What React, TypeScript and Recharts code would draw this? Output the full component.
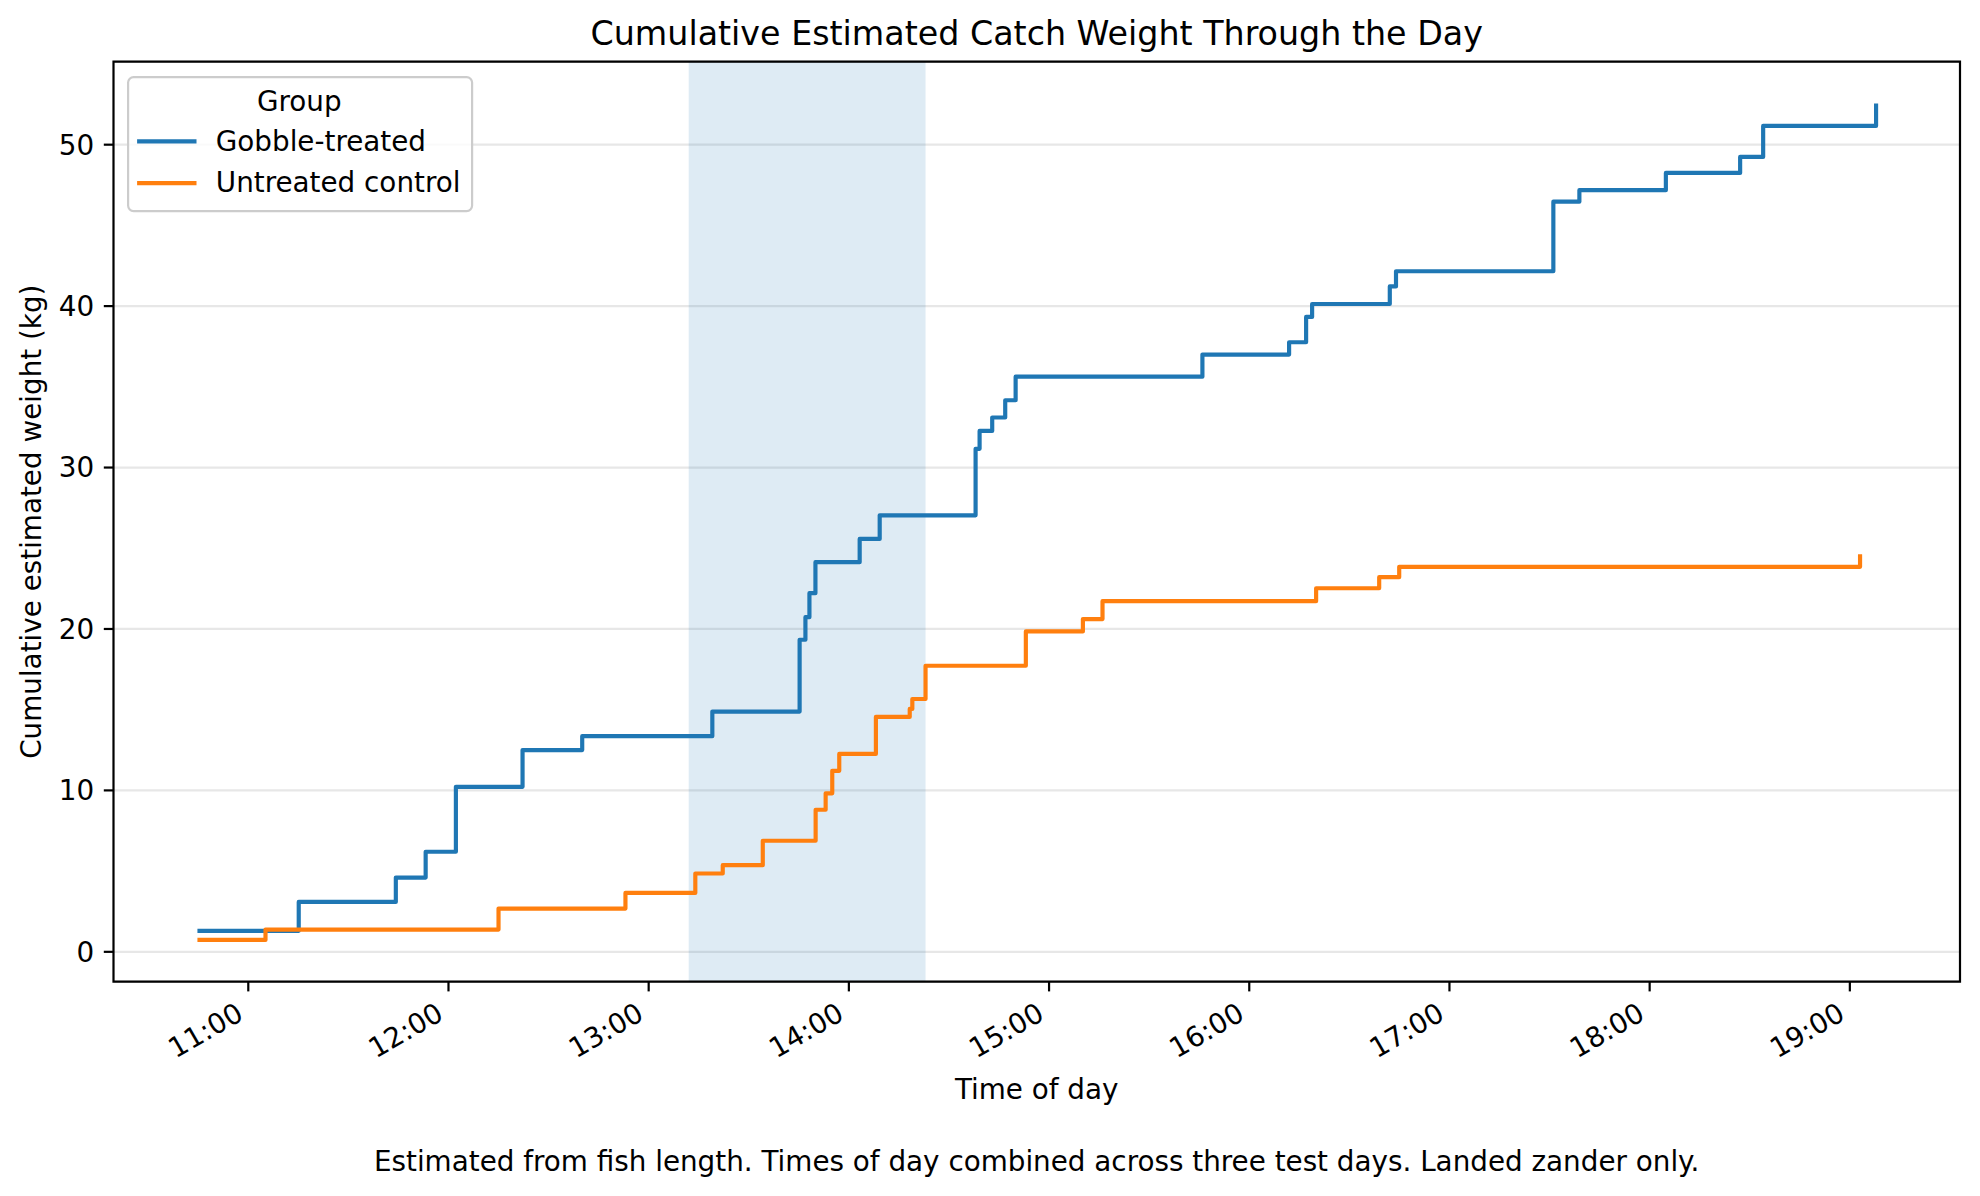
import React from 'react';
import { LineChart, Line, XAxis, YAxis, CartesianGrid, ReferenceArea, Legend } from 'recharts';

// Time of day in decimal hours, cumulative estimated weight in kg
const treatedTimes = [
  10.746, 11.252, 11.737, 11.886, 12.037, 12.37, 12.668, 13.318, 13.754, 13.783, 13.803,
  13.833, 14.054, 14.154, 14.633, 14.653, 14.716, 14.781, 14.833, 15.766, 16.199, 16.284,
  16.314, 16.702, 16.733, 17.519, 17.649, 18.081, 18.452, 18.567, 19.131,
];
const treatedWeights = [
  1.3, 3.09, 4.6, 6.2, 10.22, 12.5, 13.36, 14.88, 19.33, 20.73, 22.22,
  24.14, 25.58, 27.04, 31.16, 32.27, 33.1, 34.17, 35.63, 37.0, 37.76, 39.33,
  40.13, 41.22, 42.16, 46.47, 47.18, 48.25, 49.24, 51.16, 52.55,
];
const controlTimes = [
  10.746, 11.086, 12.25, 12.884, 13.233, 13.37, 13.57, 13.834, 13.884, 13.917, 13.952,
  14.135, 14.304, 14.317, 14.383, 14.884, 15.169, 15.267, 16.334, 16.649, 16.749, 19.051,
];
const controlWeights = [
  0.74, 1.38, 2.68, 3.65, 4.85, 5.37, 6.88, 8.8, 9.82, 11.21, 12.26,
  14.55, 15.05, 15.66, 17.72, 19.85, 20.61, 21.72, 22.52, 23.21, 23.85, 24.63,
];
const seriesNames = ['Gobble-treated', 'Untreated control'];
const seriesColors = ['#1f77b4', '#ff7f0e'];
const xTicks = [11, 12, 13, 14, 15, 16, 17, 18, 19];
const yTicks = [0, 10, 20, 30, 40, 50];
const highlightStart = 13.2;
const highlightEnd = 14.383;

const FONT = '"DejaVu Sans", Verdana, sans-serif';
const FS = 27.8;
const LW = 2.2;

const treatedData = treatedTimes.map((t, i) => ({ t, w: treatedWeights[i] }));
const controlData = controlTimes.map((t, i) => ({ t, w: controlWeights[i] }));

const allT = [...treatedTimes, ...controlTimes];
const allW = [...treatedWeights, ...controlWeights];
const tMin = Math.min(...allT);
const tMax = Math.max(...allT);
const wMin = Math.min(...allW);
const wMax = Math.max(...allW);
const xDomain: [number, number] = [tMin - 0.05 * (tMax - tMin), tMax + 0.05 * (tMax - tMin)];
const yDomain: [number, number] = [wMin - 0.05 * (wMax - wMin), wMax + 0.05 * (wMax - wMin)];

const fmtHour = (h: number) => `${String(Math.round(h)).padStart(2, '0')}:00`;

const XTick = (props: any) => {
  const { x, y, payload } = props;
  const ax = x - 3.3;
  const ay = y + 27.2;
  return (
    <text
      x={ax}
      y={ay}
      transform={`rotate(-30 ${ax} ${ay})`}
      textAnchor="end"
      fontSize={FS}
      fontFamily={FONT}
      fill="#000"
    >
      {fmtHour(payload.value)}
    </text>
  );
};

const renderLegend = (props: any) => {
  const payload = (props && props.payload) || [];
  const items = seriesNames.map((n, i) => {
    const p = payload.find((q: any) => q.value === n);
    return { name: n, color: (p && p.color) || seriesColors[i] };
  });
  return (
    <svg width={350} height={140} style={{ display: 'block' }}>
      <rect x={1.1} y={1.1} width={344} height={134} rx={5.5} ry={5.5} fill="#fff" fillOpacity={0.8} stroke="#cccccc" strokeWidth={LW} />
      <text x={172.3} y={34.7} textAnchor="middle" fontSize={FS} fontFamily={FONT} fill="#000">Group</text>
      {items.map((it, i) => (
        <g key={it.name}>
          <line x1={10.1} x2={69.5} y1={65.4 + i * 41.7} y2={65.4 + i * 41.7} stroke={it.color} strokeWidth={4.17} />
          <text x={88.8} y={75.4 + i * 41.0} fontSize={FS} fontFamily={FONT} fill="#000">{it.name}</text>
        </g>
      ))}
    </svg>
  );
};

export default function App() {
  return (
    <div style={{ position: 'absolute', left: 0, top: 0, width: 1980, height: 1196, background: '#fff' }}>
      <LineChart width={1980} height={1196} margin={{ top: 61.7, right: 20, left: 0, bottom: 0 }}>
        <CartesianGrid vertical={false} horizontal stroke="#b0b0b0" strokeOpacity={0.3} strokeWidth={LW} />
        <ReferenceArea x1={highlightStart} x2={highlightEnd} fill="#1f77b4" fillOpacity={0.15} stroke="none" ifOverflow="visible" />
        <XAxis
          type="number"
          dataKey="t"
          domain={xDomain}
          allowDataOverflow
          ticks={xTicks}
          interval={0}
          height={214.3}
          axisLine={false}
          tickLine={{ stroke: '#000', strokeWidth: LW }}
          tickSize={9.7}
          tickMargin={0}
          tick={<XTick />}
        />
        <YAxis
          type="number"
          dataKey="w"
          domain={yDomain}
          allowDataOverflow
          ticks={yTicks}
          interval={0}
          width={113.5}
          axisLine={false}
          tickLine={{ stroke: '#000', strokeWidth: LW }}
          tickSize={9.7}
          tickMargin={9.7}
          tick={{ fill: '#000', fontSize: FS, fontFamily: FONT }}
        />
        <Line
          data={treatedData}
          dataKey="w"
          name={seriesNames[0]}
          type="stepAfter"
          stroke={seriesColors[0]}
          strokeWidth={4.17}
          strokeLinejoin="round"
          dot={false}
          activeDot={false}
          isAnimationActive={false}
        />
        <Line
          data={controlData}
          dataKey="w"
          name={seriesNames[1]}
          type="stepAfter"
          stroke={seriesColors[1]}
          strokeWidth={4.17}
          strokeLinejoin="round"
          dot={false}
          activeDot={false}
          isAnimationActive={false}
        />
        <ReferenceArea x1={xDomain[0]} x2={xDomain[1]} y1={yDomain[0]} y2={yDomain[1]} fill="none" stroke="#000" strokeWidth={LW} ifOverflow="visible" />
        <Legend
          layout="vertical"
          align="center"
          verticalAlign="middle"
          content={renderLegend}
          wrapperStyle={{ position: 'absolute', left: 127.2, top: 75.6, width: 350, height: 140 }}
        />
      </LineChart>
      <svg
        width={1980}
        height={1196}
        style={{ position: 'absolute', left: 0, top: 0, pointerEvents: 'none' }}
      >
        <text x={1036.7} y={45} textAnchor="middle" fontSize={33.3} fontFamily={FONT} fill="#000">
          Cumulative Estimated Catch Weight Through the Day
        </text>
        <text x={1036.7} y={1099} textAnchor="middle" fontSize={FS} fontFamily={FONT} fill="#000">
          Time of day
        </text>
        <text x={41} y={521.7} transform="rotate(-90 41 521.7)" textAnchor="middle" fontSize={FS} fontFamily={FONT} fill="#000">
          Cumulative estimated weight (kg)
        </text>
        <text x={1036.7} y={1171} textAnchor="middle" fontSize={FS} fontFamily={FONT} fill="#000">
          Estimated from fish length. Times of day combined across three test days. Landed zander only.
        </text>
      </svg>
    </div>
  );
}
